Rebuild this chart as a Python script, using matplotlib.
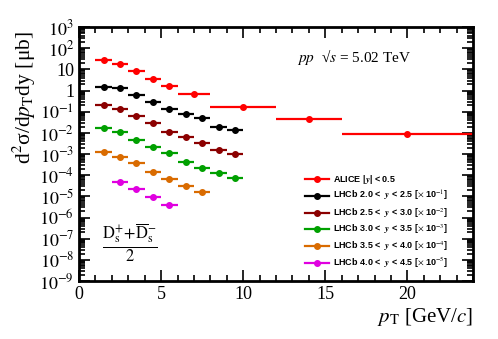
import numpy as np
import matplotlib
matplotlib.use("Agg")
import matplotlib.pyplot as plt
from matplotlib.lines import Line2D
from matplotlib.ticker import FuncFormatter, MultipleLocator, LogLocator, NullFormatter

plt.rcParams['mathtext.fontset'] = 'stix'
plt.rcParams['font.family'] = ['Liberation Serif', 'DejaVu Serif']

# ALICE |y|<0.5
alice_lo = [1, 2, 3, 4, 5, 6, 8, 12, 16]
alice_hi = [2, 3, 4, 5, 6, 8, 12, 16, 24]
alice_x = [1.5, 2.5, 3.5, 4.5, 5.5, 7.0, 10.0, 14.0, 20.0]
alice_y = [29, 19, 8.7, 3.6, 1.6, 0.68, 0.17, 0.044, 0.0085]

lhcb_x = [1.5, 2.5, 3.5, 4.5, 5.5, 6.5, 7.5, 8.5, 9.5]
lhcb1_y = [1.5, 1.35, 0.63, 0.30, 0.14, 0.075, 0.05, 0.019, 0.014]
lhcb2_y = [0.21, 0.14, 0.063, 0.028, 0.011, 0.0066, 0.0032, 0.0016, 0.00105]
lhcb3_y = [0.018, 0.011, 0.0048, 0.0022, 0.0011, 4.4e-4, 2.3e-4, 1.26e-4, 7.4e-5]
lhcb4_x = [1.5, 2.5, 3.5, 4.5, 5.5, 6.5, 7.5]
lhcb4_y = [1.25e-3, 7.5e-4, 3.9e-4, 1.4e-4, 6.8e-5, 3.1e-5, 1.66e-5]
lhcb5_x = [2.5, 3.5, 4.5, 5.5]
lhcb5_y = [4.6e-5, 2.2e-5, 9.6e-6, 4.0e-6]

labels = [r'ALICE |$\mathbfit{y}$| < 0.5',
          r'LHCb 2.0 <  $\mathbfit{y}$ < 2.5 [$\times$ 10$^{-1}$]',
          r'LHCb 2.5 <  $\mathbfit{y}$ < 3.0 [$\times$ 10$^{-2}$]',
          r'LHCb 3.0 <  $\mathbfit{y}$ < 3.5 [$\times$ 10$^{-3}$]',
          r'LHCb 3.5 <  $\mathbfit{y}$ < 4.0 [$\times$ 10$^{-4}$]',
          r'LHCb 4.0 <  $\mathbfit{y}$ < 4.5 [$\times$ 10$^{-5}$]']
colors = ['#ff0000', '#000000', '#8b0000', '#00a000', '#d96b00', '#e000e0']

fig = plt.figure(figsize=(4.98, 3.39), dpi=100)
ax = fig.add_axes([0.1586, 0.171, 0.7914, 0.749])

ax_x = np.array(alice_x)
xerr = [ax_x - np.array(alice_lo), np.array(alice_hi) - ax_x]
ay = np.array(alice_y)
ax.errorbar(alice_x, alice_y, xerr=xerr, yerr=0.12 * ay, fmt='o', color=colors[0],
            ms=4, capsize=0, elinewidth=1.6)
series = [(lhcb_x, lhcb1_y), (lhcb_x, lhcb2_y), (lhcb_x, lhcb3_y), (lhcb4_x, lhcb4_y), (lhcb5_x, lhcb5_y)]
for (xs, ys), c in zip(series, colors[1:]):
    ys = np.array(ys)
    ax.errorbar(xs, ys, xerr=0.5, yerr=0.12 * ys, fmt='o', color=c, ms=4,
                capsize=0, elinewidth=1.6)

handles = [Line2D([0], [0], color=c, marker='o', ms=4, lw=1.6) for c in colors]

ax.set_yscale('log')
ax.set_xlim(0, 24)
ax.set_ylim(1e-9, 1e3)

ax.xaxis.set_major_locator(MultipleLocator(5))
ax.xaxis.set_minor_locator(MultipleLocator(1))
ax.yaxis.set_major_locator(LogLocator(base=10, numticks=20))
ax.yaxis.set_minor_locator(LogLocator(base=10, subs=np.arange(2, 10), numticks=100))
ax.yaxis.set_minor_formatter(NullFormatter())

def yfmt(v, pos):
    e = int(round(np.log10(v)))
    if e == 0:
        return '1'
    if e == 1:
        return '10'
    return r'$10^{%d}$' % e
ax.yaxis.set_major_formatter(FuncFormatter(yfmt))

ax.tick_params(which='both', direction='in', top=True, right=True, labelsize=13, width=1.2)
ax.tick_params(which='major', length=8)
ax.tick_params(which='minor', length=4)
for s in ax.spines.values():
    s.set_linewidth(2.0)

ax.set_xlabel(r'$p_{\mathrm{T}}$ [GeV/$c$]', fontsize=15, loc='right', labelpad=2)
ax.set_ylabel('d$^2$σ/d$p_{\\mathrm{T}}$dy [μb]', fontsize=15.5, loc='top', labelpad=1)
ax.yaxis.label.set_position((0, 0.985))

ax.text(0.698, 0.882, '$pp$  √$s$ = 5.02 TeV', transform=ax.transAxes, fontsize=11,
        ha='center', va='center')
ax.text(0.13, 0.15, r'$\frac{\mathrm{D}_{\mathrm{s}}^{+}\!+\!\overline{\mathrm{D}}_{\mathrm{s}}^{-}}{2}$',
        transform=ax.transAxes, fontsize=17, ha='center', va='center')

leg = ax.legend(handles, labels, loc='upper left', bbox_to_anchor=(0.574, 0.425),
                frameon=False, prop={'family': 'Liberation Sans', 'weight': 'bold', 'size': 6.5},
                handlelength=2.6, labelspacing=0.34, handletextpad=0.5, borderpad=0,
                borderaxespad=0)

fig.savefig('out.png', dpi=100)
